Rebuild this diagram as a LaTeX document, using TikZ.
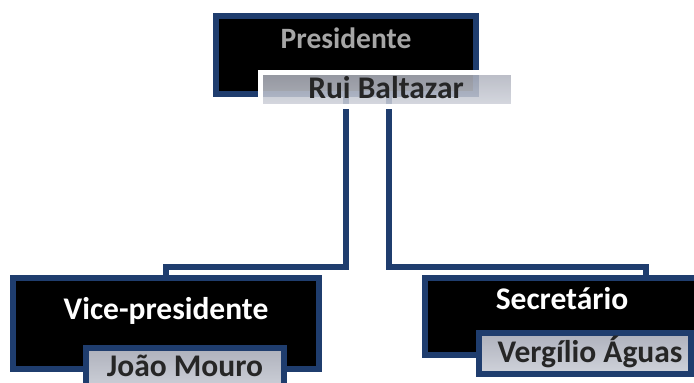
\documentclass[tikz,border=0pt]{standalone}
\usepackage{fontspec}
\setmainfont{Carlito}
\definecolor{bordblue}{HTML}{1F3D6E}
\definecolor{graytop}{HTML}{AEB1BC}
\definecolor{graybot}{HTML}{D0D3DB}
\definecolor{txtdark}{HTML}{262626}
\definecolor{txtgray}{HTML}{A6A6A6}
\tikzset{
  darkbox/.style={draw=bordblue, line width=6pt, fill=black, inner sep=0pt, rectangle},
  namebox/.style={draw=bordblue, line width=6pt, top color=graytop, bottom color=graybot, inner sep=0pt, rectangle},
  ruibox/.style={draw=white, line width=5pt, top color=graytop, bottom color=graybot, fill opacity=0.85, inner sep=0pt, rectangle},
  conn/.style={draw=bordblue, line width=6pt, line join=miter},
  lbl/.style={font=\fontsize{31.5}{34}\selectfont\bfseries, inner sep=0pt, anchor=base},
}
\begin{document}
\begin{tikzpicture}[x=1pt, y=-1pt]
\useasboundingbox (0,0) rectangle (694,383);
\clip (0,0) rectangle (694,383);
% president
\node[darkbox, minimum width=260pt, minimum height=78pt] (pres) at (346,55) {};
\coordinate (bus) at (0,267);
\draw[conn] (pres.south) |- (bus -| 166,0) -- (166,278) coordinate (vptop);
\draw[conn] ([xshift=43pt]pres.south) |- (bus -| 646,0) -- (646,278) coordinate (sectop);
\node[ruibox, minimum width=253pt, minimum height=34pt] (rui) at (387,89.5) {};
\node[lbl, text=txtgray, font=\fontsize{29.5}{32}\selectfont\bfseries] (prestxt) at (346,48) {Presidente};
\node[lbl, text=txtdark] (ruitxt) at (386,98.5) {Rui Baltazar};
% vice-president
\node[darkbox, minimum width=306pt, minimum height=91pt] (vp) at (166,323.5) {};
\node[lbl, text=white] (vptxt) at (166,319) {Vice-presidente};
\node[namebox, minimum width=198pt, minimum height=44pt] (jm) at (185,370) {};
\node[lbl, text=txtdark] (jmtxt) at (185,376) {João Mouro};
% secretary
\node[darkbox, minimum width=280pt, minimum height=77pt] (sec) at (565,316.5) {};
\node[lbl, text=white] (sectxt) at (562,309.5) {Secretário};
\node[namebox, minimum width=212pt, minimum height=41pt] (va) at (585,353.5) {};
\node[lbl, text=txtdark] (vatxt) at (590,362) {Vergílio Águas};
\end{tikzpicture}
\end{document}
